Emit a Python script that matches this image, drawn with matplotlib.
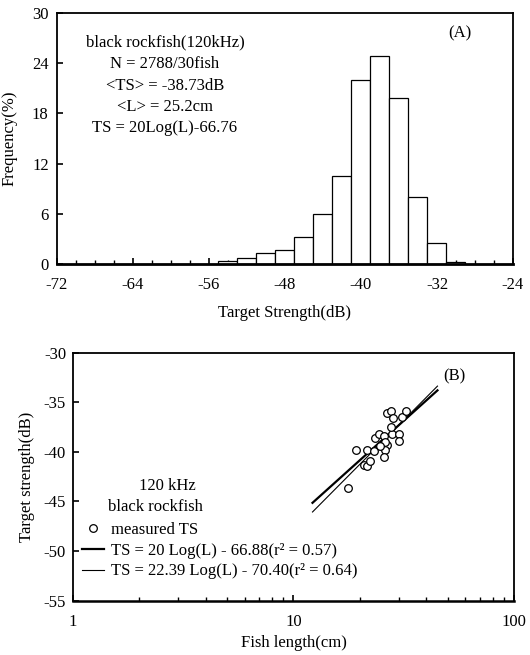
import matplotlib
matplotlib.use("Agg")
import matplotlib.pyplot as plt
import numpy as np
from matplotlib.lines import Line2D
from matplotlib.ticker import FixedLocator, NullFormatter

plt.rcParams["font.family"] = ["Liberation Serif", "DejaVu Serif"]
plt.rcParams["font.size"] = 12
plt.rcParams["axes.unicode_minus"] = False

# (A) TS histogram, 2 dB bins
ts_bins = [-54, -52, -50, -48, -46, -44, -42, -40, -38, -36, -34, -32, -30]
freq_pct = [0.3, 0.7, 1.3, 1.6, 3.2, 5.9, 10.5, 22.0, 24.9, 19.8, 8.0, 2.5, 0.15]
hist_xticks = [-72, -64, -56, -48, -40, -32, -24]
hist_yticks = [0, 6, 12, 18, 24, 30]

# (B) measured TS per fish
fish_len = [17.7, 19.2, 21.5, 20.8, 21.6, 22.3, 23.1, 23.4, 24.5, 25.7, 26.5,
            26.0, 25.7, 27.9, 27.7, 26.5, 27.7, 28.4, 30.2, 30.2, 31.1, 32.4,
            26.0, 24.8]
fish_ts = [-43.7, -39.8, -39.8, -41.3, -41.4, -40.9, -39.9, -38.6, -38.2, -38.4,
           -39.3, -39.8, -40.5, -38.2, -37.5, -36.1, -35.9, -36.6, -38.2, -38.9,
           -36.5, -35.9, -39.0, -39.4]
fit_range = [12.2, 45.0]
fit_a = (20.0, -66.88)
fit_b = (22.39, -70.40)
reg_yticks = [-55, -50, -45, -40, -35, -30]

fig = plt.figure(figsize=(5.3, 6.55), dpi=100)
ax1 = fig.add_axes([0.1075, 0.5977, 0.8604, 0.3817])
ax2 = fig.add_axes([0.1377, 0.0832, 0.832, 0.3786])

# ---- panel A ----
ax1.bar(ts_bins, freq_pct, width=2, facecolor="white", edgecolor="black",
        linewidth=0.9, zorder=2)
ax1.set_xlim(-72, -24)
ax1.set_ylim(0, 30)
ax1.set_xticks(hist_xticks)
ax1.xaxis.set_minor_locator(FixedLocator(np.arange(-72, -23, 2)))
ax1.set_yticks(hist_yticks)
ax1.tick_params(axis="both", which="major", direction="in", length=4,
                width=1.2, labelsize=12)
ax1.tick_params(axis="x", which="major", pad=10)
ax1.tick_params(axis="y", which="major", pad=6)
ax1.tick_params(axis="x", which="minor", direction="in", length=3, width=1)
ax1.set_xlabel("Target Strength(dB)", fontsize=12, labelpad=8)
ax1.set_ylabel("Frequency(%)", fontsize=12, labelpad=10)
for side in ax1.spines.values():
    side.set_linewidth(1.3)
ax1.spines["bottom"].set_linewidth(2.0)

ax1.text(0.237, 0.915,
         "black rockfish(120kHz)\nN = 2788/30fish\n<TS> = -38.73dB\n"
         "<L> = 25.2cm\nTS = 20Log(L)-66.76",
         transform=ax1.transAxes, ha="center", va="top",
         multialignment="center", linespacing=1.45, fontsize=12)
ax1.text(0.884, 0.92, "(A)", transform=ax1.transAxes, ha="center",
         va="center", fontsize=12)

# ---- panel B ----
ax2.set_xscale("log")
ax2.set_xlim(1, 100)
ax2.set_ylim(-55, -30)
ax2.set_yticks(reg_yticks)
ax2.set_xticks([1, 10, 100])
ax2.set_xticklabels(["1", "10", "100"])
ax2.xaxis.set_minor_formatter(NullFormatter())
ax2.tick_params(axis="both", which="major", direction="in", length=4,
                width=1.2, labelsize=12)
ax2.tick_params(axis="x", which="major", pad=10)
ax2.tick_params(axis="y", which="major", pad=5)
ax2.tick_params(axis="x", which="minor", direction="in", length=3, width=1)
for side in ax2.spines.values():
    side.set_linewidth(1.3)
ax2.spines["bottom"].set_linewidth(1.8)

lx = np.logspace(np.log10(fit_range[0]), np.log10(fit_range[1]), 50)
ax2.plot(lx, fit_a[0] * np.log10(lx) + fit_a[1], color="black", lw=1.6)
ax2.plot(lx, fit_b[0] * np.log10(lx) + fit_b[1], color="black", lw=0.8)
ax2.plot(fish_len, fish_ts, linestyle="none", marker="o", ms=5.5,
         mfc="white", mec="black", mew=0.9)

ax2.set_xlabel("Fish length(cm)", fontsize=12, labelpad=3)
ax2.set_ylabel("Target strength(dB)", fontsize=12, labelpad=6)
ax2.text(0.866, 0.905, "(B)", transform=ax2.transAxes, ha="center",
         va="center", fontsize=12)
ax2.text(0.213, 0.462, "120 kHz", transform=ax2.transAxes, ha="center",
         va="center", fontsize=12)
ax2.text(0.188, 0.377, "black rockfish", transform=ax2.transAxes,
         ha="center", va="center", fontsize=12)

handles = [
    Line2D([], [], linestyle="none", marker="o", ms=5.5, mfc="white",
           mec="black", mew=0.9),
    Line2D([], [], color="black", lw=1.6),
    Line2D([], [], color="black", lw=0.8),
]
labels = [
    "measured TS",
    "TS = 20 Log(L) - 66.88(r\u00b2 = 0.57)",
    "TS = 22.39 Log(L) - 70.40(r\u00b2 = 0.64)",
]
ax2.legend(handles, labels, loc="lower left", bbox_to_anchor=(0.02, 0.085),
           frameon=False, borderpad=0, borderaxespad=0, handlelength=1.35,
           handletextpad=0.4, labelspacing=0.28, fontsize=12)

fig.savefig("out.png", dpi=100)
